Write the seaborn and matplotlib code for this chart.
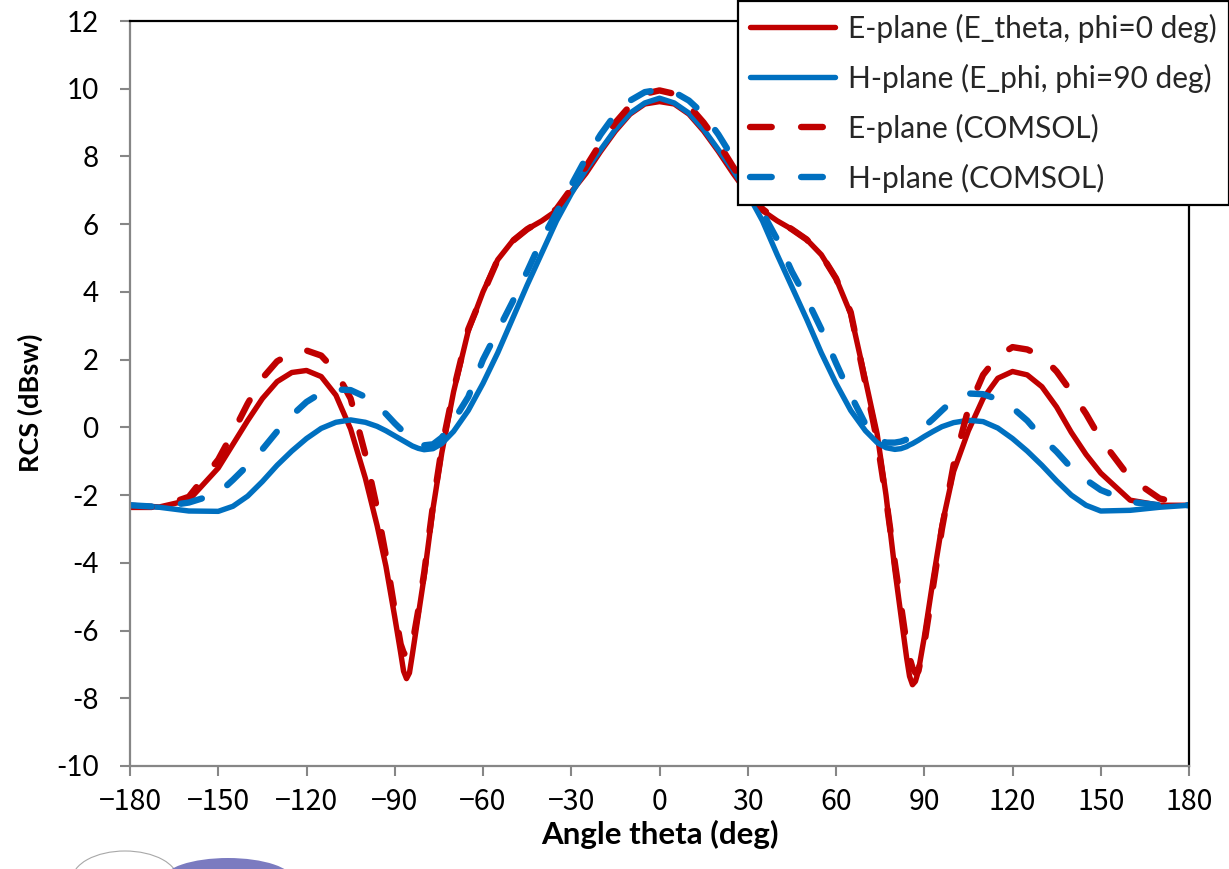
import matplotlib
matplotlib.use("Agg")
import matplotlib.pyplot as plt
import seaborn as sns
import pandas as pd
from matplotlib.patches import Ellipse

# ---------------- data ----------------
ANGLES = [-180, -170, -160, -150, -145, -140, -135, -130, -125, -120, -115, -110, -105, -100,
          -96, -93, -90, -88, -87, -86, -85, -84, -82, -80, -77, -74, -70, -65, -60, -55, -50, -45,
          -40, -35, -30, -25, -20, -15, -10, -5, 0,
          5, 10, 15, 20, 25, 30, 35, 40, 45, 50, 55, 60, 65, 70, 74, 77, 80, 82, 84, 85, 86, 87, 88,
          90, 93, 96, 100, 105, 110, 115, 120, 125, 130, 135, 140, 145, 150, 160, 170, 180]

E_PLANE = [-2.30, -2.35, -2.15, -1.20, -0.50, 0.20, 0.85, 1.35, 1.62, 1.68, 1.50, 0.95, -0.05, -1.50,
           -2.90, -4.10, -5.60, -6.65, -7.20, -7.42, -7.25, -6.70, -5.55, -4.40, -2.40, -0.75, 1.05, 2.85, 4.00, 4.95, 5.50, 5.85,
           6.10, 6.40, 6.95, 7.50, 8.15, 8.75, 9.25, 9.55, 9.62,
           9.55, 9.25, 8.75, 8.15, 7.50, 6.90, 6.40, 6.10, 5.85, 5.55, 5.10, 4.40, 3.35, 1.40, -0.20, -2.00, -4.20, -5.50, -6.80, -7.35, -7.60, -7.50, -7.20,
           -6.20, -4.50, -2.90, -1.30, -0.10, 0.85, 1.45, 1.65, 1.55, 1.20, 0.60, -0.15, -0.80, -1.35, -2.15, -2.30, -2.30]

H_PLANE = [-2.30, -2.36, -2.47, -2.48, -2.33, -2.03, -1.60, -1.12, -0.70, -0.33, -0.03, 0.15, 0.22, 0.15,
           0.03, -0.10, -0.25, -0.35, -0.40, -0.45, -0.50, -0.55, -0.62, -0.66, -0.63, -0.48, -0.12, 0.50, 1.30, 2.20, 3.20, 4.20,
           5.15, 6.10, 6.90, 7.60, 8.20, 8.80, 9.28, 9.58, 9.72,
           9.58, 9.28, 8.80, 8.20, 7.60, 6.90, 6.10, 5.10, 4.15, 3.20, 2.20, 1.30, 0.50, -0.10, -0.45, -0.60, -0.65, -0.63, -0.57, -0.52, -0.48, -0.43, -0.38,
           -0.27, -0.12, 0.02, 0.14, 0.21, 0.17, -0.02, -0.33, -0.70, -1.12, -1.58, -2.00, -2.30, -2.47, -2.45, -2.36, -2.30]

E_COMSOL = [-2.35, -2.35, -2.05, -0.95, -0.15, 0.70, 1.45, 1.95, 2.20, 2.27, 2.12, 1.65, 0.85, -0.80,
            -2.40, -3.80, -5.40, -6.40, -6.65, -6.77, -6.65, -6.40, -5.40, -4.30, -2.30, -0.60, 1.10, 2.90, 3.95, 4.95, 5.50, 5.85,
            6.12, 6.45, 7.05, 7.70, 8.40, 9.00, 9.50, 9.85, 9.95,
            9.85, 9.50, 9.00, 8.40, 7.70, 7.05, 6.45, 6.12, 5.85, 5.55, 5.10, 4.40, 3.40, 1.30, -0.40, -2.10, -4.00, -5.20, -6.40, -6.80, -7.10, -7.25, -7.20,
            -6.40, -4.70, -3.00, -1.10, 0.55, 1.55, 2.10, 2.37, 2.30, 2.10, 1.65, 1.05, 0.40, -0.35, -1.50, -2.10, -2.30]

H_COMSOL = [-2.30, -2.35, -2.22, -1.95, -1.55, -1.12, -0.65, -0.12, 0.35, 0.75, 1.02, 1.12, 1.10, 0.90,
            0.65, 0.40, 0.12, -0.05, -0.13, -0.22, -0.30, -0.38, -0.48, -0.53, -0.50, -0.30, 0.20, 0.90, 2.00, 2.85, 3.70, 4.60,
            5.55, 6.35, 7.15, 7.95, 8.65, 9.25, 9.65, 9.90, 9.97,
            9.90, 9.65, 9.25, 8.65, 7.95, 7.15, 6.35, 5.55, 4.60, 3.80, 2.90, 1.90, 0.95, 0.10, -0.35, -0.45, -0.45, -0.42, -0.36, -0.32, -0.28, -0.22, -0.15,
            0.02, 0.25, 0.50, 0.82, 1.00, 0.98, 0.83, 0.58, 0.20, -0.30, -0.72, -1.20, -1.55, -1.85, -2.20, -2.30, -2.30]

LABELS = ["E-plane (E_theta, phi=0 deg)", "H-plane (E_phi, phi=90 deg)",
          "E-plane (COMSOL)", "H-plane (COMSOL)"]

X_TICKS = [-180, -150, -120, -90, -60, -30, 0, 30, 60, 90, 120, 150, 180]
X_TICK_LABELS = ["\u2212180", "\u2212150", "\u2212120", "\u221290", "\u221260", "\u221230", "0",
                 "30", "60", "90", "120", "150", "180"]
Y_TICKS = [-10, -8, -6, -4, -2, 0, 2, 4, 6, 8, 10, 12]
Y_TICK_LABELS = ["-10", "-8", "-6", "-4", "-2", "0", "2", "4", "6", "8", "10", "12"]

# ---------------- style ----------------
RED = "#C00000"
BLUE = "#0070C0"
GREY = "#868686"

sns.set_theme(style="white")
plt.rcParams["font.family"] = ["Lato", "DejaVu Sans"]

W, H = 1229, 869
fig = plt.figure(figsize=(W / 100, H / 100), dpi=100)
ax = fig.add_axes([130 / W, 1 - 766 / H, 1059 / W, 745 / H])

df = pd.DataFrame({"angle": ANGLES, "E": E_PLANE, "H": H_PLANE, "Ec": E_COMSOL, "Hc": H_COMSOL})

dash = (0, (3.4, 4.6))
sns.lineplot(data=df, x="angle", y="E", ax=ax, color=RED, lw=3.9, label=LABELS[0],
             solid_capstyle="round", solid_joinstyle="round")
sns.lineplot(data=df, x="angle", y="H", ax=ax, color=BLUE, lw=3.9, label=LABELS[1],
             solid_capstyle="round", solid_joinstyle="round")
sns.lineplot(data=df, x="angle", y="Ec", ax=ax, color=RED, lw=4.6, label=LABELS[2],
             linestyle=dash, dash_capstyle="round", dash_joinstyle="round")
sns.lineplot(data=df, x="angle", y="Hc", ax=ax, color=BLUE, lw=4.6, label=LABELS[3],
             linestyle=dash, dash_capstyle="round", dash_joinstyle="round")

ax.set_xlim(-180, 180)
ax.set_ylim(-10, 12)
ax.set_xticks(X_TICKS)
ax.set_xticklabels(X_TICK_LABELS, fontfamily=["Noto Sans CJK JP", "DejaVu Sans"], fontsize=20.5)
ax.set_yticks(Y_TICKS)
ax.set_yticklabels(Y_TICK_LABELS, fontsize=20)

ax.tick_params(axis="both", which="major", direction="out", length=7.2, width=1.5,
               color=GREY, labelcolor="black")
ax.tick_params(axis="y", pad=15.5)
ax.tick_params(axis="x", pad=8)
ax.tick_params(left=True, bottom=True)

for s in ["left", "bottom"]:
    ax.spines[s].set_color(GREY)
    ax.spines[s].set_linewidth(1.6)
for s in ["top", "right"]:
    ax.spines[s].set_color("black")
    ax.spines[s].set_linewidth(1.6)
ax.grid(False)

ax.set_xlabel("Angle theta (deg)", fontsize=22.5, fontweight="bold", color="black")
ax.set_ylabel("RCS (dBsw)", fontsize=19.5, fontweight="bold", color="black")
ax.xaxis.set_label_coords(0.5, (766 - 834) / 745)
ax.xaxis.label.set_va("center")
ax.yaxis.set_label_coords((30 - 130) / 1059, (766 - 403) / 745)
ax.yaxis.label.set_va("center")

leg = ax.legend(loc="upper right", bbox_to_anchor=(1.0, 1 - 1.5 / H), bbox_transform=fig.transFigure,
                frameon=True, fancybox=False, framealpha=1, edgecolor="black", facecolor="white",
                fontsize=21.5, handlelength=2.85, handletextpad=0.45, labelspacing=0.7,
                borderpad=0.4, borderaxespad=0)
leg.get_frame().set_linewidth(1.6)
leg.set_zorder(10)

# partial logo shapes at the bottom-left edge of the picture
fig.add_artist(Ellipse((125 / W, 1 - 880 / H), 106 / W, 58 / H, transform=fig.transFigure,
                       facecolor="white", edgecolor="#a8a8a8", lw=0.8))
fig.add_artist(Ellipse((228 / W, 1 - 880 / H), 130 / W, 44 / H, transform=fig.transFigure,
                       facecolor="#7B7BC0", edgecolor="none"))

fig.savefig("out.png", dpi=100)
